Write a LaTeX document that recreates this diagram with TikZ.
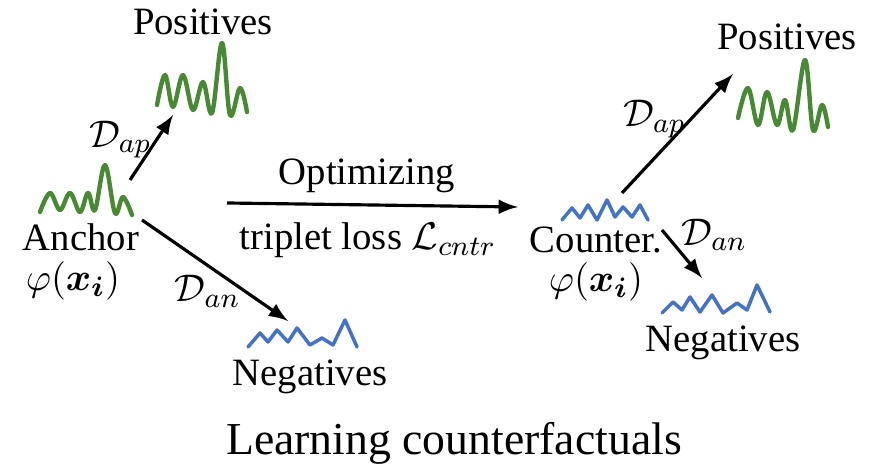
\documentclass[tikz,border=0pt]{standalone}
\usepackage{fontspec}
\usepackage{amsmath}
\usetikzlibrary{positioning}
\setmainfont{Liberation Serif}
\definecolor{posgreen}{RGB}{72,138,52}
\definecolor{negblue}{RGB}{68,114,196}
\tikzset{
	posw/.style = {posgreen, line width=1.25pt, line cap=round, line join=round},
	negw/.style = {negblue, line width=1pt, line cap=round, line join=round},
	arr/.style = {-latex, line width=0.9pt},
	lbl/.style = {font=\fontsize{11}{13}\selectfont, inner sep=0pt}
}

\begin{document}
\begin{tikzpicture}[x=0.01cm, y=-0.01cm]
	\useasboundingbox (0,0) rectangle (882,474);

	% left half: anchor
	\draw[posw] plot[smooth, tension=0.6] coordinates {(40,212) (50,193) (60,210) (70,193) (80,212) (88,193) (95,210) (105,165) (115,213) (123,197) (132,215)};
	\draw[posw] plot[smooth, tension=0.6] coordinates {(157,105) (165,75) (173,107) (183,75) (193,110) (203,82) (212,113) (222,43) (230,115) (240,88) (247,112)};
	\draw[negw] (248,347) -- (260,333) -- (268,342) -- (277,330) -- (288,342) -- (297,328) -- (310,345) -- (322,338) -- (333,345) -- (345,320) -- (357,347);
	\node[lbl] (posL) at (203,22) {Positives};
	\node[lbl] (anc) at (81,237) {Anchor};
	\node[lbl] (ancphi) at (73,281) {$\varphi(\boldsymbol{x}_{\boldsymbol{i}})$};
	\node[lbl] (negL) at (310,377) {Negatives};
	\coordinate (ancA) at (130,180);
	\coordinate (posLA) at (173,115);
	\coordinate (ancB) at (142,220);
	\coordinate (negLA) at (288,321);
	\draw[arr] (ancA) -- (posLA) node[lbl, pos=0.62, left=1pt] {$\mathcal{D}_{ap}$};
	\draw[arr] (ancB) -- (negLA) node[lbl, pos=0.45, below=0.08cm] {$\mathcal{D}_{an}$};

	% middle: optimizing
	\coordinate (optA) at (227,203);
	\coordinate (optB) at (518,207);
	\draw[arr] (optA) -- (optB);
	\node[lbl] (opt) at (367,176) {Optimizing};
	\node[lbl] (loss) at (368,240) {triplet loss $\mathcal{L}_{cntr}$};

	% right half: counterfactual
	\draw[negw] (562,220) -- (572,208) -- (580,218) -- (588,205) -- (597,220) -- (607,200) -- (615,217) -- (623,207) -- (632,217) -- (640,205) -- (648,220);
	\draw[posw] plot[smooth, tension=0.6] coordinates {(738,118) (748,88) (758,125) (767,92) (777,125) (785,100) (793,130) (805,60) (813,130) (822,105) (828,127)};
	\draw[negw] (662,313) -- (673,302) -- (682,310) -- (690,297) -- (700,312) -- (712,295) -- (723,313) -- (737,303) -- (747,310) -- (757,285) -- (770,312);
	\node[lbl] (posR) at (787,37) {Positives};
	\node[lbl] (cnt) at (596,240) {Counter.};
	\node[lbl] (cntphi) at (596,282) {$\varphi(\boldsymbol{x}_{\boldsymbol{i}})$};
	\node[lbl] (negR) at (723,343) {Negatives};
	\coordinate (cntA) at (622,193);
	\coordinate (posRA) at (733,74);
	\coordinate (cntB) at (662,230);
	\coordinate (negRA) at (702,278);
	\draw[arr] (cntA) -- (posRA) node[lbl, pos=0.62, left=1pt] {$\mathcal{D}_{ap}$};
	\draw[arr] (cntB) -- (negRA) node[lbl, pos=0.1, right=4pt] {$\mathcal{D}_{an}$};

	\node[font=\fontsize{13}{15}\selectfont, inner sep=0pt] (title) at (454,443) {Learning counterfactuals};
\end{tikzpicture}
\end{document}
